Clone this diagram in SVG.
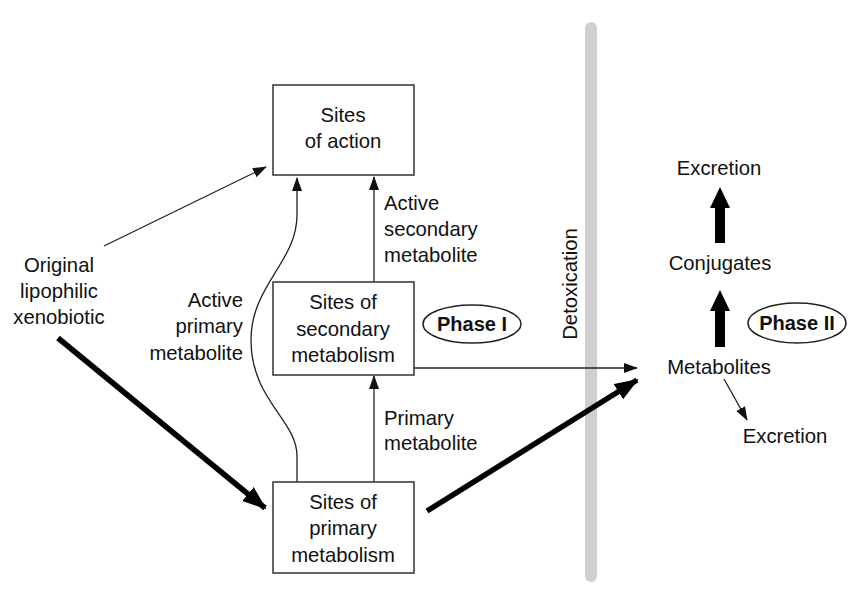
<svg xmlns="http://www.w3.org/2000/svg" width="850" height="593" viewBox="0 0 850 593">
<defs>
<style>
text{font-family:"Liberation Sans",Arial,sans-serif;font-size:20.3px;fill:#111}
.c{text-anchor:middle}
.r{text-anchor:end}
.b{font-weight:bold;font-size:20px}
.box{fill:#fff;stroke:#333;stroke-width:1.5}
.thin{fill:none;stroke:#222;stroke-width:1.3}
.thick{fill:none;stroke:#000;stroke-width:5.5}
</style>
<marker id="ah" markerWidth="14" markerHeight="10" refX="13" refY="5" orient="auto" markerUnits="userSpaceOnUse"><path d="M0,0 L14,5 L0,10 Z" fill="#111"/></marker>
<marker id="ahb" markerWidth="24" markerHeight="18" refX="22" refY="9" orient="auto" markerUnits="userSpaceOnUse"><path d="M0,0 L24,9 L0,18 Z" fill="#000"/></marker>
</defs>
<rect width="850" height="593" fill="#fff"/>
<g id="barrier">
<rect x="585" y="22" width="12" height="560" rx="6" fill="#cfcfcf"/>
<text transform="translate(577,284) rotate(-90)" class="c">Detoxication</text>
</g>
<g id="connectors">
<path class="thin" d="M104,246 L266,167" marker-end="url(#ah)"/>
<path class="thin" d="M297,482 L297,456 C297,420 251,400 251,340 C251,285 297,262 297,215 L297,178" marker-end="url(#ah)"/>
<path class="thin" d="M374,282 L374,177" marker-end="url(#ah)"/>
<path class="thin" d="M374,482 L374,376" marker-end="url(#ah)"/>
<path class="thin" d="M414,368 L637,368" marker-end="url(#ah)"/>
<path class="thin" d="M724,379 L747,420" marker-end="url(#ah)"/>
<path class="thick" d="M58,338 L265,508" marker-end="url(#ahb)"/>
<path class="thick" d="M427,511 L637,380" marker-end="url(#ahb)"/>
<polygon points="715,243 725,243 725,208 730,208 720,187 710,208 715,208" fill="#000"/>
<polygon points="715,347 725,347 725,311 730,311 720,290 710,311 715,311" fill="#000"/>
</g>
<g id="action">
<rect class="box" x="273" y="85" width="141" height="90"/>
<text class="c" x="343" y="122">Sites</text>
<text class="c" x="343" y="148">of action</text>
</g>
<g id="secondary">
<rect class="box" x="273" y="282" width="141" height="93"/>
<text class="c" x="343" y="309">Sites of</text>
<text class="c" x="343" y="336">secondary</text>
<text class="c" x="343" y="362">metabolism</text>
</g>
<g id="primary">
<rect class="box" x="273" y="482" width="141" height="91"/>
<text class="c" x="343" y="509">Sites of</text>
<text class="c" x="343" y="535">primary</text>
<text class="c" x="343" y="562">metabolism</text>
</g>
<g id="original">
<text class="c" x="59" y="272">Original</text>
<text class="c" x="59" y="298">lipophilic</text>
<text class="c" x="59" y="324">xenobiotic</text>
</g>
<g id="labels">
<text class="r" x="243" y="307">Active</text>
<text class="r" x="243" y="333">primary</text>
<text class="r" x="243" y="360">metabolite</text>
<text x="384" y="210">Active</text>
<text x="384" y="236">secondary</text>
<text x="384" y="262">metabolite</text>
<text x="384" y="425">Primary</text>
<text x="384" y="450">metabolite</text>
</g>
<g id="phase1">
<ellipse cx="472" cy="324" rx="49" ry="19" fill="none" stroke="#222" stroke-width="1.5"/>
<text class="c b" x="472" y="331">Phase I</text>
</g>
<g id="phase2">
<ellipse cx="797" cy="323" rx="49" ry="20" fill="none" stroke="#222" stroke-width="1.5"/>
<text class="c b" x="797" y="330">Phase II</text>
</g>
<g id="excretion1"><text class="c" x="719" y="175">Excretion</text></g>
<g id="conjugates"><text class="c" x="720" y="270">Conjugates</text></g>
<g id="metabolites"><text class="c" x="719" y="374">Metabolites</text></g>
<g id="excretion2"><text class="c" x="785" y="443">Excretion</text></g>
</svg>
